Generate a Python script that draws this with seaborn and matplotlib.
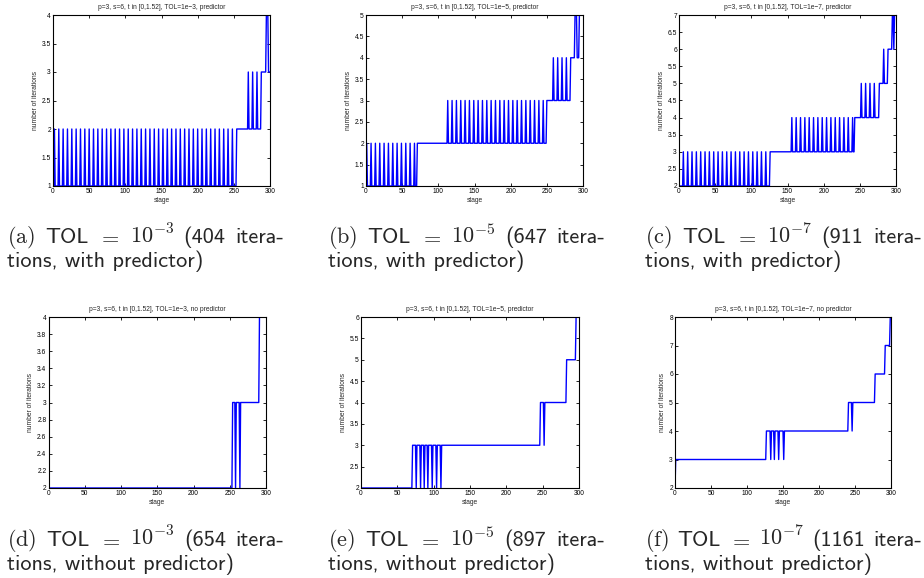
import numpy as np
import pandas as pd
import seaborn as sns
import matplotlib.pyplot as plt
from matplotlib.ticker import FormatStrFormatter, MultipleLocator

sns.set_theme(style="ticks")
plt.rcParams['font.family'] = ['Liberation Sans', 'DejaVu Sans']
plt.rcParams['mathtext.fontset'] = 'cm'

stages = np.arange(0, 301)

# (a) TOL=1e-3, predictor: baseline steps + one-stage peaks
a_starts = [0, 254, 288, 295, 298]
a_levels = [1, 2, 3, 4, 3]
a_peaks = [2, 8, 14, 20, 26, 32, 38, 44, 50, 56, 62, 68, 74, 80, 86, 92, 98,
           104, 110, 116, 122, 128, 134, 140, 146, 152, 158, 164, 170, 176,
           182, 188, 194, 200, 206, 212, 218, 224, 230, 236, 242, 248,
           270, 276, 282]

# (b) TOL=1e-5, predictor
b_starts = [0, 71, 250, 283, 289, 292, 295]
b_levels = [1, 2, 3, 4, 5, 4, 5]
b_peaks = [1, 7, 13, 19, 25, 31, 37, 43, 49, 55, 61, 67,
           113, 119, 125, 131, 137, 143, 149, 155, 161, 167, 173, 179, 185,
           191, 197, 203, 209, 215, 221, 227, 233, 239, 245,
           259, 265, 271, 277]

# (c) TOL=1e-7, predictor
c_starts = [0, 126, 243, 277, 289, 295, 297, 298]
c_levels = [2, 3, 4, 5, 6, 7, 6, 7]
c_peaks = [6, 12, 18, 24, 30, 36, 42, 48, 54, 60, 66, 72, 78, 84, 90, 96,
           102, 108, 114, 120,
           156, 162, 168, 174, 180, 186, 192, 198, 204, 210, 216, 222, 228,
           234, 240,
           252, 258, 264, 270, 283]

# (d) TOL=1e-3, no predictor: baseline steps + one-stage dips
d_starts = [0, 254, 291]
d_levels = [2, 3, 4]
d_dips = [258, 264]

# (e) TOL=1e-5, no predictor
e_starts = [0, 71, 247, 283, 296]
e_levels = [2, 3, 4, 5, 6]
e_dips = [76, 82, 87, 92, 98, 104, 110, 252]

# (f) TOL=1e-7, no predictor
f_starts = [0, 1, 127, 241, 278, 292, 299]
f_levels = [2, 3, 4, 5, 6, 7, 8]
f_dips = [133, 138, 144, 151, 246]

tols = ['1e\u22123', '1e\u22125', '1e\u22127', '1e\u22123', '1e\u22125', '1e\u22127']
modes = ['predictor', 'predictor', 'predictor', 'no predictor', 'predictor', 'no predictor']
ylims = [(1, 4), (1, 5), (2, 7), (2, 4), (2, 6), (2, 8)]
ysteps = [0.5, 0.5, 0.5, 0.2, 0.5, 1]
letters = ['a', 'b', 'c', 'd', 'e', 'f']
exps = ['-3', '-5', '-7', '-3', '-5', '-7']
iters = [404, 647, 911, 654, 897, 1161]
kinds = ['with predictor', 'with predictor', 'with predictor',
         'without predictor', 'without predictor', 'without predictor']

series = [(a_starts, a_levels, a_peaks, 1), (b_starts, b_levels, b_peaks, 1),
          (c_starts, c_levels, c_peaks, 1), (d_starts, d_levels, d_dips, -1),
          (e_starts, e_levels, e_dips, -1), (f_starts, f_levels, f_dips, -1)]


def build(starts, levels, marks, sign):
    idx = np.searchsorted(starts, stages, side='right') - 1
    y = np.array(levels, dtype=float)[idx]
    y[np.array(marks)] += sign
    return pd.DataFrame({'stage': stages, 'iterations': y})


W, H = 924, 578
fig = plt.figure(figsize=(W / 100, H / 100), dpi=100)
small = 4.8
cap_size = 16

# axes boxes in pixels: left, top, right, bottom
boxes = [(53, 15, 270, 186), (366, 15, 583, 186), (679, 15, 896, 186),
         (48.5, 317, 266, 488), (361, 317, 579, 488), (675, 317, 891, 488)]
cap_x = [7, 328, 645, 7, 328, 645]
cap_y = [243, 243, 243, 546, 546, 546]
cap_w = 277

renderer = fig.canvas.get_renderer()

for i in range(6):
    l, t, r, b = boxes[i]
    ax = fig.add_axes([l / W, 1 - b / H, (r - l) / W, (b - t) / H])
    df = build(*series[i])
    sns.lineplot(data=df, x='stage', y='iterations', ax=ax, color='blue',
                 lw=1.0, estimator=None)
    ax.set_xlim(0, 300)
    ax.set_ylim(*ylims[i])
    ax.xaxis.set_major_locator(MultipleLocator(50))
    ax.yaxis.set_major_locator(MultipleLocator(ysteps[i]))
    ax.yaxis.set_major_formatter(FormatStrFormatter('%g'))
    ax.tick_params(direction='in', top=True, right=True, length=2.5,
                   width=0.6, labelsize=small, pad=1.5, colors='black')
    for s in ax.spines.values():
        s.set_linewidth(0.8)
        s.set_color('black')
    ax.set_xlabel('stage', fontsize=small, labelpad=1.5)
    ax.set_ylabel('number of iterations', fontsize=small, labelpad=2)
    ax.set_title('p=3, s=6, t in [0,1.52], TOL=%s, %s' % (tols[i], modes[i]),
                 fontsize=small, pad=4)

    # first caption line is justified to the column width, like LaTeX
    words = [r'$\mathrm{(%s)}$' % letters[i], 'TOL', '$=$', '$10^{%s}$' % exps[i],
             '(%d' % iters[i], 'itera-']
    texts = [fig.text(0, 1 - cap_y[i] / H, w, family='cmss10', fontsize=cap_size,
                      va='baseline', ha='left') for w in words]
    widths = [tx.get_window_extent(renderer).width for tx in texts]
    gap = max((cap_w - sum(widths)) / (len(words) - 1), 4)
    x = cap_x[i]
    for tx, w in zip(texts, widths):
        tx.set_x(x / W)
        x += w + gap
    fig.text(cap_x[i] / W, 1 - (cap_y[i] + 24) / H, 'tions, %s)' % kinds[i],
             family='cmss10', fontsize=cap_size, va='baseline', ha='left')

fig.savefig('out.png', dpi=100)
